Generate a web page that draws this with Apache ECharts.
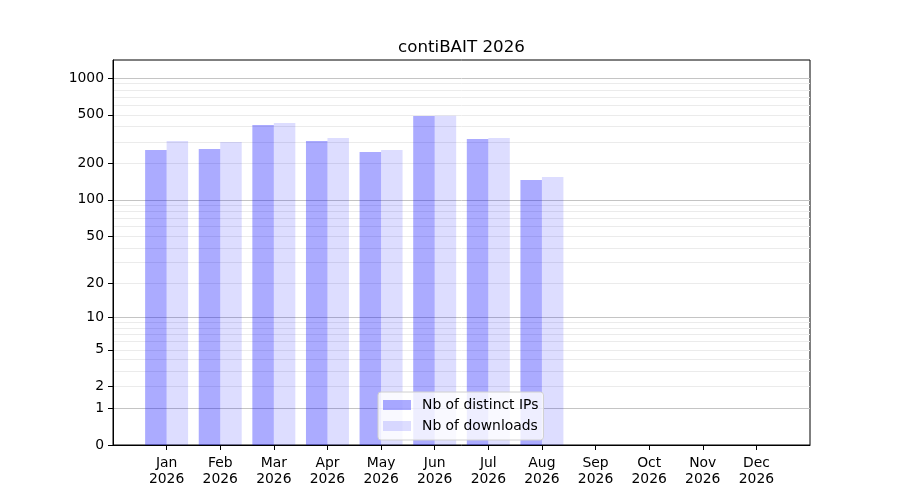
<!DOCTYPE html>
<html>
<head>
<meta charset="utf-8">
<script src="https://cdn.jsdelivr.net/npm/echarts@6/dist/echarts.min.js"></script>
<style>
  html, body { margin: 0; padding: 0; background: #fff; }
  #chart { width: 900px; height: 500px; }
</style>
</head>
<body>
<div id="chart"></div>
<script>
const months = ['Jan', 'Feb', 'Mar', 'Apr', 'May', 'Jun', 'Jul', 'Aug', 'Sep', 'Oct', 'Nov', 'Dec'];
const year = '2026';
const distinctIPs = [257, 262, 413, 305, 248, 489, 317, 146];
const downloads = [305, 299, 429, 323, 257, 492, 323, 154];
const tickLabels = [0, 1, 2, 5, 10, 20, 50, 100, 200, 500, 1000];
const majorGrid = [1, 10, 100, 1000];
const minorGrid = [2, 3, 4, 5, 6, 7, 8, 9, 20, 30, 40, 50, 60, 70, 80, 90, 200, 300, 400, 500, 600, 700, 800, 900];

// y axis is log10(v + 1), like the original plot
const t = (v) => Math.log10(v + 1);
const untr = (y) => Math.round(Math.pow(10, y) - 1);
const yMax = 3.148;

const chart = echarts.init(document.getElementById('chart'));
const font = 'DejaVu Sans';

// hidden axis that only draws grid lines at the given values
function gridAxis(values, color) {
  return {
    type: 'value',
    min: 0,
    max: yMax,
    position: 'left',
    axisLine: { show: false },
    axisLabel: { show: false, customValues: values.map(t) },
    axisTick: { show: false, customValues: values.map(t) },
    splitLine: { show: true, lineStyle: { color: color, width: 1 } },
  };
}

const option = {
  animation: false,
  title: {
    text: 'contiBAIT ' + year,
    left: 393,
    top: 34,
    textStyle: { fontFamily: font, fontSize: 16.7, fontWeight: 'normal', color: '#000' },
  },
  grid: {
    left: 113,
    right: 90,
    top: 60,
    bottom: 55,
    show: true,
    borderColor: '#000',
    borderWidth: 1,
    backgroundColor: 'transparent',
  },
  legend: {
    orient: 'vertical',
    left: 378,
    top: 392,
    itemWidth: 28,
    itemHeight: 10,
    itemGap: 7,
    padding: [6, 5, 7, 5],
    backgroundColor: 'rgba(255,255,255,0.8)',
    borderColor: '#d0d0d0',
    borderWidth: 1,
    borderRadius: 3,
    icon: 'rect',
    textStyle: { fontFamily: font, fontSize: 13.9, color: '#000', padding: [0, 0, 0, 6] },
    data: ['Nb of distinct IPs', 'Nb of downloads'],
  },
  xAxis: {
    type: 'value',
    min: -1,
    max: 12,
    interval: 1,
    splitLine: { show: false },
    axisLine: { onZero: false, lineStyle: { color: '#000', width: 1 } },
    axisTick: { length: 5, customValues: months.map((m, i) => i), lineStyle: { color: '#000' } },
    axisLabel: {
      customValues: months.map((m, i) => i),
      margin: 10,
      fontFamily: font,
      fontSize: 13.9,
      color: '#000',
      lineHeight: 16,
      formatter: (v) => months[v] + '\n' + year,
    },
  },
  yAxis: [
    {
      type: 'value',
      min: 0,
      max: yMax,
      position: 'left',
      splitLine: { show: false },
      axisLine: { show: true, onZero: false, lineStyle: { color: '#000', width: 1 } },
      axisTick: { show: true, length: 5, customValues: tickLabels.map(t), lineStyle: { color: '#000' } },
      axisLabel: {
        customValues: tickLabels.map(t),
        margin: 9,
        fontFamily: font,
        fontSize: 13.9,
        color: '#000',
        formatter: (y) => String(untr(y)),
      },
    },
    gridAxis(minorGrid, '#ebebeb'),
    gridAxis(majorGrid, '#c4c4c4'),
  ],
  series: [
    {
      name: 'Nb of distinct IPs',
      type: 'bar',
      barWidth: 21.5,
      barGap: '0%',
      itemStyle: { color: 'rgba(0,0,255,0.33)' },
      data: distinctIPs.map((v, i) => [i, t(v)]),
    },
    {
      name: 'Nb of downloads',
      type: 'bar',
      barWidth: 21.5,
      barGap: '0%',
      itemStyle: { color: 'rgba(0,0,255,0.135)' },
      data: downloads.map((v, i) => [i, t(v)]),
    },
  ],
};

chart.setOption(option);
</script>
</body>
</html>
